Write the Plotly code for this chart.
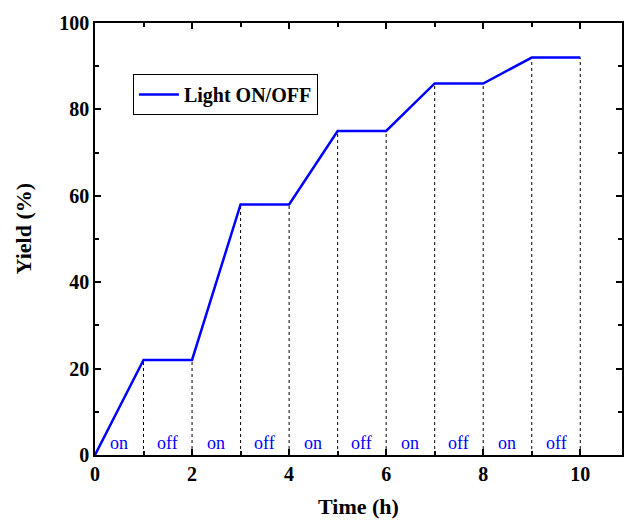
import plotly.graph_objects as go

# Yield over time with light switched on/off every hour
time_h = [0, 1, 2, 3, 4, 5, 6, 7, 8, 9, 10]
yield_pct = [0, 22, 22, 58, 58, 75, 75, 86, 86, 92, 92]
phase_labels = ["on", "off", "on", "off", "on", "off", "on", "off", "on", "off"]
label_y = 2.8

FONT = "Liberation Serif"

fig = go.Figure()

# dashed drop lines from each switching point to the baseline
for x, y in zip(time_h[1:], yield_pct[1:]):
    fig.add_shape(type="line", x0=x, x1=x, y0=0, y1=y, xref="x", yref="y",
                  line=dict(color="black", width=1, dash="3px,3px"), layer="below")

fig.add_trace(go.Scatter(x=time_h, y=yield_pct, mode="lines", name="Light ON/OFF",
                         line=dict(color="#0000FF", width=2.5)))

# on/off phase annotations centred in each interval
for i, lab in enumerate(phase_labels):
    fig.add_annotation(x=time_h[i] + 0.5, y=label_y, text=lab, showarrow=False,
                       font=dict(family=FONT, size=18, color="#0000FF"),
                       xref="x", yref="y")

# y-axis title, placed as rotated text
fig.add_annotation(x=-0.136, y=0.523, xref="paper", yref="paper", text="Yield (%)",
                   textangle=-90, showarrow=False, xanchor="center", yanchor="middle",
                   font=dict(family=FONT, size=22, color="black", weight="bold"))

axis_common = dict(
    showgrid=False, zeroline=False, showline=True, linecolor="black", linewidth=1.5,
    mirror="ticks", ticks="inside", ticklen=6, tickwidth=1.5, tickcolor="black",
    tickfont=dict(family=FONT, size=20, color="black", weight="bold"),
)

fig.update_layout(
    width=625, height=523,
    margin=dict(l=95, r=1, t=23, b=68),
    plot_bgcolor="white", paper_bgcolor="white",
    xaxis=dict(range=[0, 10.86], tickvals=[0, 2, 4, 6, 8, 10],
               minor=dict(dtick=1, ticks="inside", ticklen=4, tickwidth=1.5, tickcolor="black"),
               title=dict(text="Time (h)", font=dict(family=FONT, size=22, color="black", weight="bold"),
                          standoff=15),
               **axis_common),
    yaxis=dict(range=[0, 100], tickvals=[0, 20, 40, 60, 80, 100],
               minor=dict(dtick=10, ticks="inside", ticklen=4, tickwidth=1.5, tickcolor="black"),
               **axis_common),
    showlegend=True,
    legend=dict(x=0.072, y=0.882, xanchor="left", yanchor="top",
                bordercolor="black", borderwidth=1, bgcolor="white",
                font=dict(family=FONT, size=20, color="black", weight="bold"),
                tracegroupgap=0, itemwidth=40),
)

fig.write_html("out.html")
